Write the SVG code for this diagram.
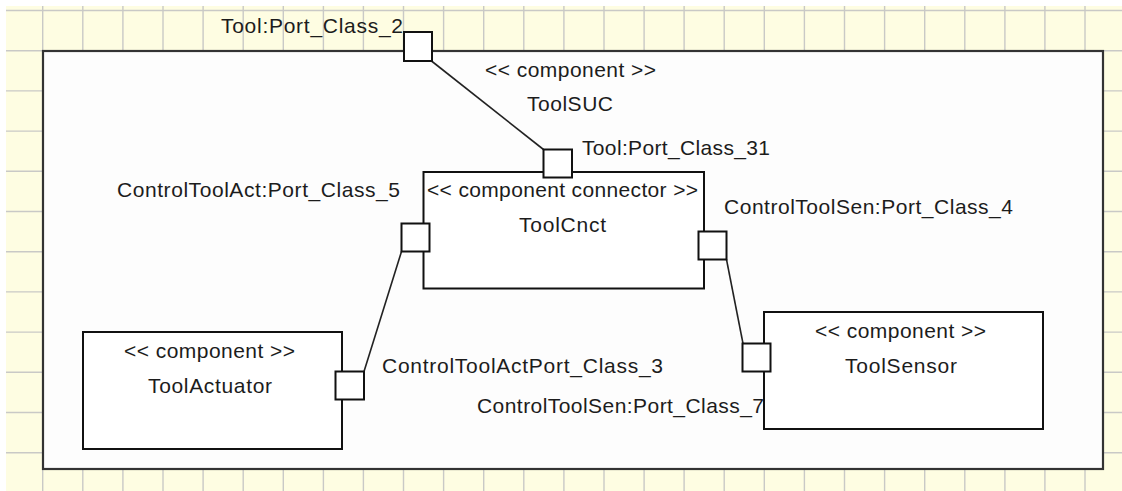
<svg xmlns="http://www.w3.org/2000/svg" width="1122" height="491" viewBox="0 0 1122 491">
<style>
.bg{fill:#fefde2}
.grid{stroke:#c9c9c6;stroke-width:1.4;fill:none}
.frame{fill:#fdfdfd;stroke:#333;stroke-width:2.2}
.box{fill:#fff;stroke:#111;stroke-width:2}
.port{fill:#fff;stroke:#111;stroke-width:2}
.conn{stroke:#222;stroke-width:1.6;fill:none}
text{font-family:"Liberation Sans",Arial,sans-serif;font-size:21px;fill:#1c1c1c}
</style>
<rect x="0" y="0" width="1122" height="491" fill="#fff"/>
<rect class="bg" x="6" y="6" width="1116" height="485"/>
<path class="grid" d="M42.7 6V491M82.8 6V491M122.9 6V491M163 6V491M203.1 6V491M243.2 6V491M283.3 6V491M323.4 6V491M363.4 6V491M403.5 6V491M443.6 6V491M483.7 6V491M523.8 6V491M563.9 6V491M604 6V491M644.1 6V491M684.1 6V491M724.2 6V491M764.3 6V491M804.4 6V491M844.5 6V491M884.6 6V491M924.7 6V491M964.8 6V491M1004.9 6V491M1044.9 6V491M1085 6V491M6 10.5H1122M6 50.7H1122M6 90.9H1122M6 131.1H1122M6 171.3H1122M6 211.5H1122M6 251.7H1122M6 291.9H1122M6 332.1H1122M6 372.3H1122M6 412.5H1122M6 452.7H1122"/>
<g id="ToolSUC">
<rect class="frame" x="43" y="51" width="1060" height="418"/>
<text x="485" y="77" textLength="171" lengthAdjust="spacing">&lt;&lt; component &gt;&gt;</text>
<text x="527" y="111" textLength="86" lengthAdjust="spacing">ToolSUC</text>
</g>
<g id="connectors">
<path class="conn" d="M431.5 61L543.5 149.5"/>
<path class="conn" d="M364 371.5L401.5 251.5"/>
<path class="conn" d="M726.5 259.5L743 343.5"/>
</g>
<g id="ToolCnct">
<rect class="box" x="423.5" y="172" width="280.5" height="116.5"/>
<text x="427" y="197" textLength="271" lengthAdjust="spacing">&lt;&lt; component connector &gt;&gt;</text>
<text x="519" y="232" textLength="87" lengthAdjust="spacing">ToolCnct</text>
</g>
<g id="ToolActuator">
<rect class="box" x="83" y="332" width="259" height="117"/>
<text x="124" y="358" textLength="171" lengthAdjust="spacing">&lt;&lt; component &gt;&gt;</text>
<text x="148" y="393" textLength="124" lengthAdjust="spacing">ToolActuator</text>
</g>
<g id="Port_Class_7_label">
<text x="477" y="413" textLength="287" lengthAdjust="spacing">ControlToolSen:Port_Class_7</text>
</g>
<g id="ToolSensor">
<rect class="box" x="764" y="312" width="279" height="117"/>
<text x="815" y="338" textLength="171" lengthAdjust="spacing">&lt;&lt; component &gt;&gt;</text>
<text x="845" y="373" textLength="112" lengthAdjust="spacing">ToolSensor</text>
</g>
<g id="Port_Class_2">
<rect class="port" x="404" y="32" width="28" height="29"/>
<text x="221" y="33" textLength="182" lengthAdjust="spacing">Tool:Port_Class_2</text>
</g>
<g id="Port_Class_31">
<rect class="port" x="543.5" y="149.5" width="28.5" height="28"/>
<text x="582" y="155" textLength="188" lengthAdjust="spacing">Tool:Port_Class_31</text>
</g>
<g id="Port_Class_5">
<rect class="port" x="401.5" y="223.5" width="28" height="28"/>
<text x="117" y="197" textLength="283" lengthAdjust="spacing">ControlToolAct:Port_Class_5</text>
</g>
<g id="Port_Class_4">
<rect class="port" x="698.5" y="231.5" width="28" height="28"/>
<text x="724" y="214" textLength="289" lengthAdjust="spacing">ControlToolSen:Port_Class_4</text>
</g>
<g id="Port_Class_7">
<rect class="port" x="742.5" y="343.5" width="28" height="28"/>
</g>
<g id="Port_Class_3">
<rect class="port" x="335.5" y="371.5" width="28.5" height="28"/>
<text x="382" y="373" textLength="281" lengthAdjust="spacing">ControlToolActPort_Class_3</text>
</g>
</svg>
